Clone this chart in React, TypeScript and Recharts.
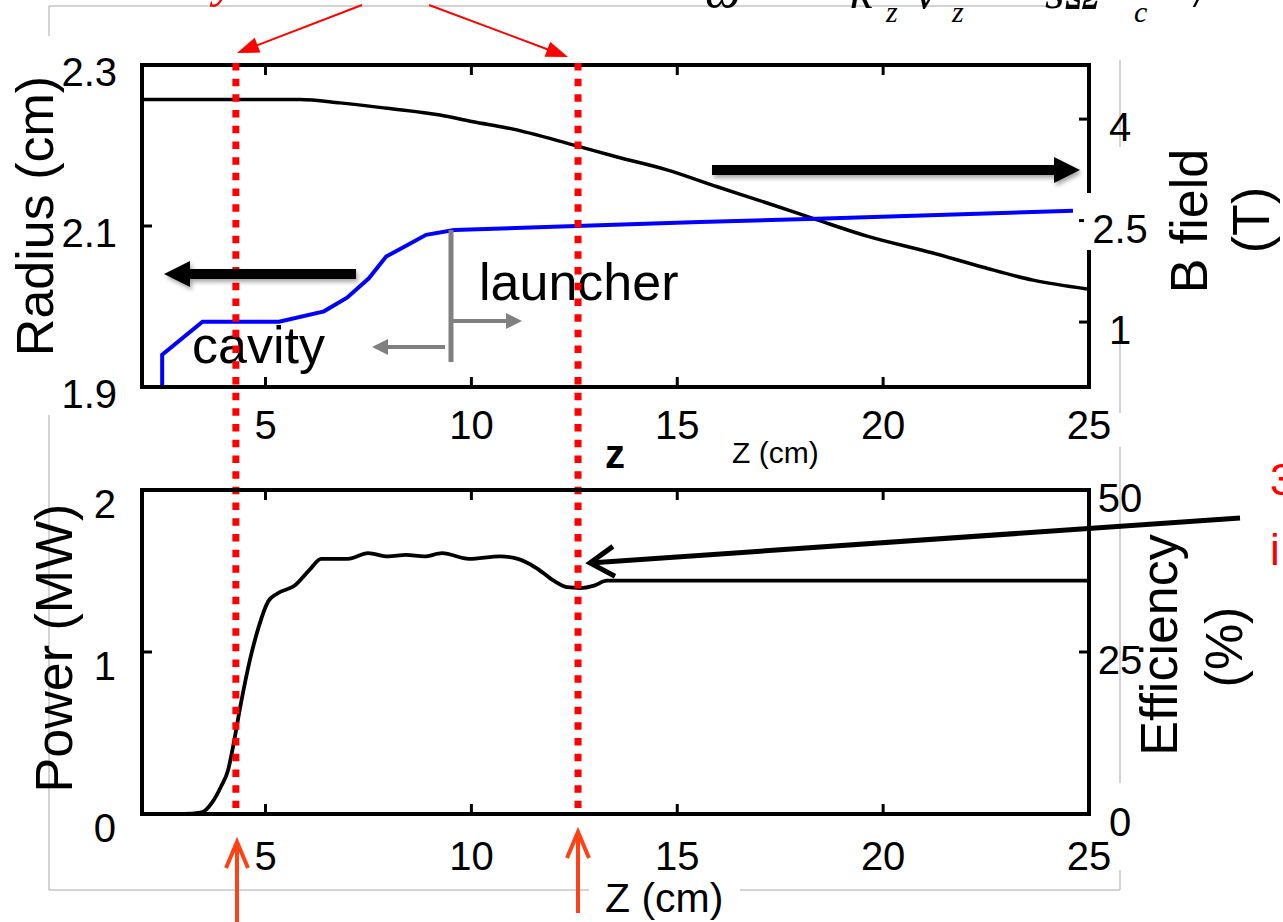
import React from "react";
import { LineChart, Line, XAxis, YAxis, ReferenceLine } from "recharts";

const FONT = "'Liberation Sans', Arial, sans-serif";
const W = 1283;
const H = 922;

// top panel: wall radius (left axis) and B field (right axis) along z
const radiusZ = [2.49, 2.49, 3.47, 5.33, 6.42, 6.98, 7.51, 7.93, 8.36, 8.9, 9.58, 12.54, 15.55, 18.4, 24.61];
const radiusCm = [1.9, 1.94, 1.981, 1.981, 1.994, 2.011, 2.035, 2.062, 2.074, 2.089, 2.095, 2.1, 2.105, 2.109, 2.119];
const bFieldZ = [2, 5.84, 6.81, 7.95, 9.24, 10.04, 10.87, 12.47, 13.54, 14.75, 15.97, 17.18, 18.4, 19.61, 21.21, 22.43, 23.64, 24.95];
const bFieldT = [4.29, 4.29, 4.24, 4.16, 4.06, 3.96, 3.87, 3.62, 3.44, 3.25, 3.0, 2.76, 2.51, 2.27, 2.02, 1.81, 1.62, 1.49];

// bottom panel: output power along z
const powerZ = [2, 3.0, 3.45, 3.7, 3.92, 4.09, 4.2, 4.4, 4.62, 4.84, 5.06, 5.28, 5.71, 6.08, 6.35, 7.0, 7.49, 7.98, 8.41, 8.85, 9.29, 9.94, 10.7, 11.13, 11.57, 12.0, 12.32, 12.64, 12.98, 13.29, 13.8, 25];
const powerMW = [0, 0, 0.01, 0.07, 0.17, 0.27, 0.4, 0.68, 0.95, 1.16, 1.31, 1.36, 1.41, 1.51, 1.575, 1.575, 1.61, 1.59, 1.6, 1.59, 1.61, 1.575, 1.59, 1.575, 1.52, 1.44, 1.4, 1.395, 1.41, 1.44, 1.44, 1.44];

const zTicks = [5, 10, 15, 20, 25];
const radiusTicks = [1.9, 2.1, 2.3];
const bTicks = [1, 2.5, 4];
const powerTicks = [0, 1, 2];
const effTicks = [0, 25, 50];

// dotted markers (cavity exit / launcher)
const markerZ = [4.28, 12.59];

const radiusData = radiusZ.map((z, i) => ({ z, r: radiusCm[i] }));
const bData = bFieldZ.map((z, i) => ({ z, b: bFieldT[i] }));
const powerData = powerZ.map((z, i) => ({ z, p: powerMW[i] }));

const frame = { stroke: "#000", strokeWidth: 4, strokeLinecap: "square" as const };
const tickLn = { stroke: "#000", strokeWidth: 3 };

function tickText(dx: number, dy: number, anchor: string) {
  return (p: any) => (
    <text x={p.x + dx} y={p.y + dy} textAnchor={anchor} fontSize={40} fontFamily={FONT} fill="#000">
      {p.payload.value}
    </text>
  );
}
const noText = () => <g />;

type Pt = [number, number];
function headPts(tail: Pt, tip: Pt, len: number, half: number) {
  const dx = tip[0] - tail[0];
  const dy = tip[1] - tail[1];
  const L = Math.hypot(dx, dy);
  const ux = dx / L;
  const uy = dy / L;
  const bx = tip[0] - ux * len;
  const by = tip[1] - uy * len;
  return { ux, uy, bx, by, pts: `${tip[0]},${tip[1]} ${bx - uy * half},${by + ux * half} ${bx + uy * half},${by - ux * half}` };
}

function Arrow({ tail, tip, color, width, len, half, shadow, open }: { tail: Pt; tip: Pt; color: string; width: number; len: number; half: number; shadow?: boolean; open?: boolean }) {
  const h = headPts(tail, tip, len, half);
  const end = open ? tip : [h.bx + h.ux * 2, h.by + h.uy * 2];
  return (
    <g filter={shadow ? "url(#shadow)" : undefined}>
      <line x1={tail[0]} y1={tail[1]} x2={end[0]} y2={end[1]} stroke={color} strokeWidth={width} />
      {open ? (
        <polyline
          points={`${h.bx - h.uy * half},${h.by + h.ux * half} ${tip[0]},${tip[1]} ${h.bx + h.uy * half},${h.by - h.ux * half}`}
          fill="none"
          stroke={color}
          strokeWidth={width}
          strokeLinejoin="miter"
        />
      ) : (
        <polygon points={h.pts} fill={color} />
      )}
    </g>
  );
}

const grayBox = "#c4c4c4";

function UnderLayer() {
  return (
    <svg width={W} height={H} style={{ position: "absolute", left: 0, top: 0 }}>
      {/* text box borders */}
      <g stroke={grayBox} strokeWidth={1.5}>
        <line x1={49} y1={6} x2={1049} y2={6} />
        <line x1={49} y1={6} x2={49} y2={36} />
        <line x1={1120} y1={60} x2={1120} y2={147} />
        <line x1={1120} y1={343} x2={1120} y2={413} />
        <line x1={1120} y1={447} x2={1120} y2={783} />
        <line x1={1120} y1={870} x2={1120} y2={890} />
        <line x1={49} y1={415} x2={49} y2={890} />
        <line x1={49} y1={890} x2={589} y2={890} />
        <line x1={740} y1={890} x2={1120} y2={890} />
      </g>
      {/* formula, cut off at the top like the source slide */}
      <text fontFamily="'Liberation Serif', 'Times New Roman', serif" fontStyle="italic" fill="#000">
        <tspan x={705} y={8} fontSize={50}>ω</tspan>
        <tspan x={850} y={8} fontSize={50}>k</tspan>
        <tspan x={886} y={22} fontSize={30}>z</tspan>
        <tspan x={915} y={8} fontSize={50}>v</tspan>
        <tspan x={952} y={22} fontSize={30}>z</tspan>
        <tspan x={1045} y={8} fontSize={50}>sΩ</tspan>
        <tspan x={1134} y={22} fontSize={30}>c</tspan>
        <tspan x={1195} y={6} fontSize={50}>/</tspan>
      </text>
      <text x={214} y={-4} fontFamily="'Liberation Serif', serif" fontStyle="italic" fontSize={50} fill="#ff0000">y</text>
      <text x={1270} y={495} fontFamily={FONT} fontSize={44} fill="#ff0000">3</text>
      <text x={1270} y={565} fontFamily={FONT} fontSize={44} fill="#ff0000">i</text>

      {/* axis titles */}
      <g fontFamily={FONT} fontSize={52} fill="#000" textAnchor="middle">
        <text transform="translate(53,216) rotate(-90)">Radius (cm)</text>
        <text transform="translate(1207,221) rotate(-90)">B field</text>
        <text transform="translate(1269,220) rotate(-90)">(T)</text>
        <text transform="translate(72,648) rotate(-90)">Power (MW)</text>
        <text transform="translate(1177,645) rotate(-90)">Efficiency</text>
        <text transform="translate(1242,647) rotate(-90)">(%)</text>
      </g>

      {/* region labels */}
      <g fontFamily={FONT} fontSize={52} fill="#000">
        <text x={479} y={300}>launcher</text>
        <text x={192} y={363}>cavity</text>
      </g>
      <text x={615} y={468} textAnchor="middle" fontFamily={FONT} fontSize={40} fontWeight="bold" fill="#000">z</text>
      <text x={732} y={463} fontFamily={FONT} fontSize={30} fill="#000">Z (cm)</text>
      <text x={605} y={912} fontFamily={FONT} fontSize={41} fill="#000">Z (cm)</text>
    </svg>
  );
}

function OverLayer() {
  const orange = "#ff4216";
  return (
    <svg width={W} height={H} style={{ position: "absolute", left: 0, top: 0, pointerEvents: "none" }}>
      <defs>
        <filter id="shadow" x="-10%" y="-50%" width="120%" height="200%">
          <feDropShadow dx={2} dy={3} stdDeviation={2} floodColor="#000" floodOpacity={0.35} />
        </filter>
      </defs>
      {/* break in the right frame behind the 2.5 label */}
      <rect x={1084} y={193} width={10} height={57} fill="#fff" />

      <Arrow tail={[356, 274]} tip={[164, 274]} color="#000" width={10} len={26} half={13} shadow />
      <Arrow tail={[712, 170]} tip={[1080, 170]} color="#000" width={10} len={26} half={13} shadow />

      <line x1={451} y1={230} x2={451} y2={362} stroke="#808080" strokeWidth={5} />
      <Arrow tail={[451, 321]} tip={[522, 321]} color="#808080" width={4} len={16} half={8} />
      <Arrow tail={[445, 347]} tip={[372, 347]} color="#808080" width={4} len={16} half={8} />

      <Arrow tail={[1240, 518]} tip={[590, 563]} color="#000" width={5} len={24} half={15} open />

      <Arrow tail={[362, 5]} tip={[237, 53]} color="#ff0000" width={2} len={22} half={8} />
      <Arrow tail={[429, 5]} tip={[568, 57]} color="#ff0000" width={2} len={22} half={8} />

      <Arrow tail={[237, 922]} tip={[237, 842]} color={orange} width={4} len={26} half={11} open />
      <Arrow tail={[578, 913]} tip={[578, 832]} color={orange} width={4} len={26} half={11} open />
    </svg>
  );
}

export default function App() {
  return (
    <div style={{ position: "absolute", left: 0, top: 0, width: W, height: H, background: "#fff", overflow: "hidden" }}>
      <UnderLayer />
      <div style={{ position: "absolute", left: 0, top: 0 }}>
        <LineChart width={W} height={H} margin={{ top: 35, right: 134, bottom: 505, left: 82 }}>
          <XAxis xAxisId="b" dataKey="z" type="number" domain={[2, 25]} ticks={zTicks} height={30} tickSize={-10} tickMargin={0} axisLine={frame} tickLine={tickLn} tick={tickText(0, 62, "middle")} allowDataOverflow />
          <XAxis xAxisId="t" orientation="top" dataKey="z" type="number" domain={[2, 25]} ticks={zTicks} height={30} tickSize={-10} tickMargin={0} axisLine={frame} tickLine={tickLn} tick={noText} allowDataOverflow />
          <YAxis yAxisId="r" type="number" domain={[1.9, 2.3]} ticks={radiusTicks} width={60} tickSize={-10} tickMargin={0} axisLine={frame} tickLine={tickLn} tick={tickText(-35, 21, "end")} allowDataOverflow />
          <YAxis yAxisId="B" orientation="right" type="number" domain={[0.04, 4.8]} ticks={bTicks} width={60} tickSize={-10} tickMargin={0} axisLine={frame} tickLine={tickLn} tick={tickText(41, 22, "middle")} allowDataOverflow />
          <Line xAxisId="b" yAxisId="B" data={bData} dataKey="b" type="monotone" stroke="#000" strokeWidth={3.5} dot={false} isAnimationActive={false} />
          <Line xAxisId="b" yAxisId="r" data={radiusData} dataKey="r" type="linear" stroke="#0000ff" strokeWidth={4} dot={false} isAnimationActive={false} />
        </LineChart>
      </div>
      <div style={{ position: "absolute", left: 0, top: 0 }}>
        <LineChart width={W} height={H} margin={{ top: 460, right: 134, bottom: 78, left: 82 }}>
          <XAxis xAxisId="b" dataKey="z" type="number" domain={[2, 25]} ticks={zTicks} height={30} tickSize={-10} tickMargin={0} axisLine={frame} tickLine={tickLn} tick={tickText(0, 66, "middle")} allowDataOverflow />
          <XAxis xAxisId="t" orientation="top" dataKey="z" type="number" domain={[2, 25]} ticks={zTicks} height={30} tickSize={-10} tickMargin={0} axisLine={frame} tickLine={tickLn} tick={noText} allowDataOverflow />
          <YAxis yAxisId="p" type="number" domain={[0, 2]} ticks={powerTicks} width={60} tickSize={-10} tickMargin={0} axisLine={frame} tickLine={tickLn} tick={tickText(-36, 28, "end")} allowDataOverflow />
          <YAxis yAxisId="e" orientation="right" type="number" domain={[0, 50]} ticks={effTicks} width={60} tickSize={-10} tickMargin={0} axisLine={frame} tickLine={tickLn} tick={tickText(41, 22, "middle")} allowDataOverflow />
          <Line xAxisId="b" yAxisId="p" data={powerData} dataKey="p" type="monotone" stroke="#000" strokeWidth={3.8} dot={false} isAnimationActive={false} />
          {markerZ.map((z) => (
            <ReferenceLine
              key={z}
              xAxisId="b"
              yAxisId="p"
              segment={[{ x: z, y: 4.636 }, { x: z, y: 0.037 }]}
              stroke="#ff0000"
              strokeWidth={7}
              strokeDasharray="7.5 8.2"
              ifOverflow="visible"
            />
          ))}
        </LineChart>
      </div>
      <OverLayer />
    </div>
  );
}
